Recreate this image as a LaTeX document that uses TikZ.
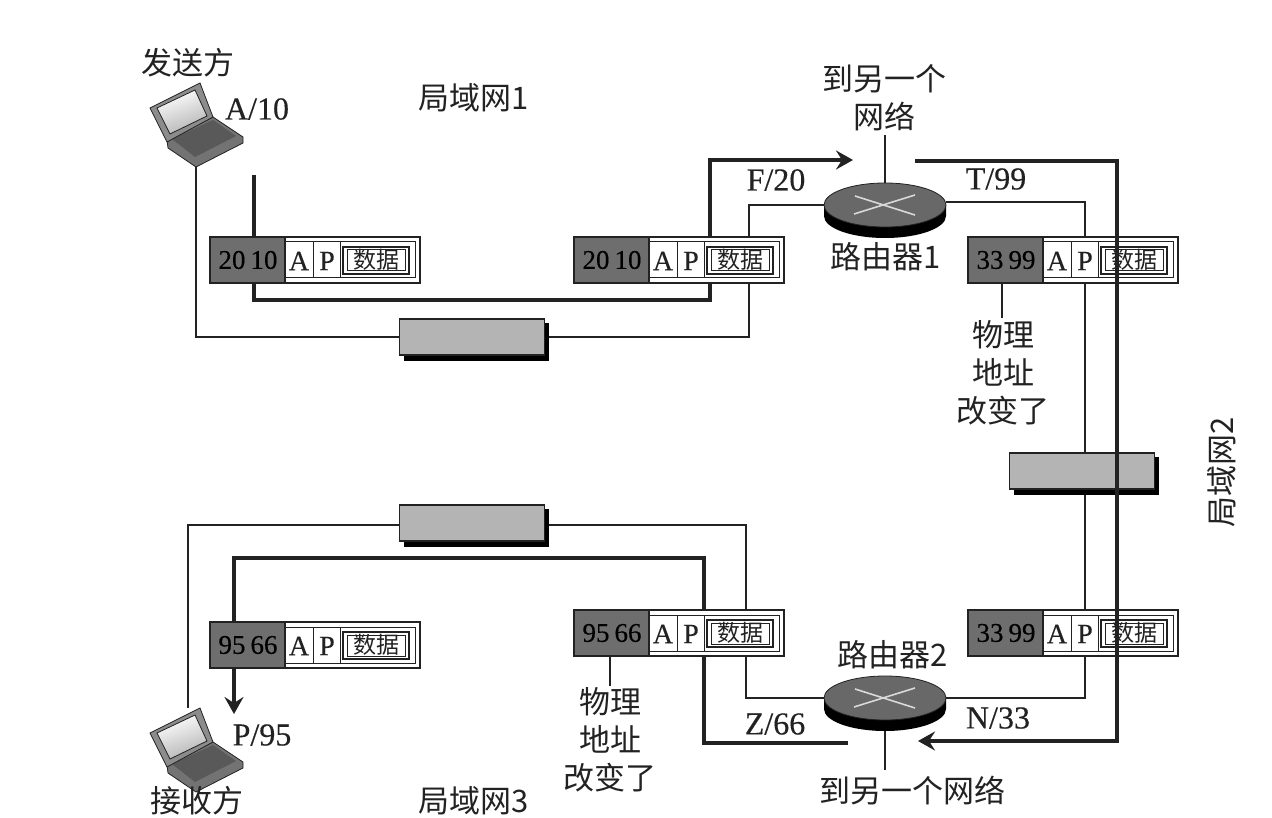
\documentclass[tikz,border=0pt]{standalone}
\usepackage{fontspec}
\setmainfont{Liberation Serif}[FakeBold=0.3]
\newfontfamily\cjk{Noto Sans CJK SC}
\usetikzlibrary{arrows.meta,backgrounds,shapes.geometric,calc}
\definecolor{darkcell}{HTML}{6E6E6E}
\definecolor{hubgray}{HTML}{B4B4B4}
\definecolor{routertop}{HTML}{686868}
\definecolor{ink}{HTML}{222222}
\tikzset{
  thinline/.style={draw=ink,line width=1.5pt,line join=miter},
  thickline/.style={draw=ink,line width=3.8pt,line join=miter},
  tipped/.style={-{Stealth[length=17pt,width=19pt,inset=6pt]}},
  lab/.style={inner sep=0pt,text=ink,font=\fontsize{32}{36}\selectfont},
  cjklab/.style={inner sep=0pt,text=ink,align=center,font=\cjk\fontsize{31}{38}\selectfont},
  packetbox/.style={draw=ink,line width=1.2pt,fill=white,anchor=north west,minimum width=210pt,minimum height=46pt,inner sep=0pt,outer sep=0pt},
  hubbox/.style={draw=ink,line width=1.2pt,fill=hubgray,minimum width=145pt,minimum height=36pt,inner sep=0pt,outer sep=0pt},
  routernode/.style={ellipse,minimum width=122pt,minimum height=44pt,inner sep=0pt,outer sep=0pt,draw=ink,line width=.8pt,fill=routertop},
}
\newcommand{\packetat}[5]{% name,x,y,left text,right text
  \node[packetbox] (#1) at (#2,#3) {};
  \begin{scope}[shift={(#2,#3)}]
    \draw[ink,line width=1pt] (75,5) rectangle (205,41);
    \draw[ink,line width=1pt,fill=white] (75,5) rectangle (130,41);
    \draw[ink,line width=1pt] (103,5) -- (103,41);
    \draw[ink,line width=1.2pt] (133,10) rectangle (199,37);
    \draw[ink,line width=1pt] (137,13) rectangle (195,34);
    \fill[darkcell] (0,0) rectangle (75,46);
    \draw[ink,line width=1.2pt] (0,0) rectangle (75,46);
    \node[inner sep=0pt,text=black,font=\fontsize{27}{30}\selectfont] (#1-addr) at (38,23) {#4\hspace{5pt}#5};
    \node[inner sep=0pt,text=ink,font=\fontsize{28}{30}\selectfont] (#1-a) at (89,24) {A};
    \node[inner sep=0pt,text=ink,font=\fontsize{28}{30}\selectfont] (#1-p) at (117,24) {P};
    \node[inner sep=0pt,text=ink,font=\cjk\fontsize{23}{26}\selectfont] (#1-d) at (166,23) {数据};
  \end{scope}
}
\newcommand{\hubat}[3]{% name,x,y centre
  \fill[black] (#2-68,#3-14) rectangle (#2+77,#3+24);
  \node[hubbox] (#1) at (#2,#3) {};
}
\newcommand{\routerat}[3]{% name,x,y centre of the top face
  \fill[black] (#2-61,#3) -- (#2-61,#3+11) arc[start angle=180,end angle=0,x radius=61,y radius=22] -- (#2+61,#3) -- cycle;
  \node[routernode] (#1) at (#2,#3) {};
  \draw[white!85!black,line width=1.6pt] (#2-31,#3+9) -- (#2+30,#3-10) (#2-30,#3-9) -- (#2+30,#3+10);
}
\newcommand{\laptopat}[3]{% name,x,y offset
  \begin{scope}[shift={(#2,#3)}]
    \coordinate (#1-top) at (188,83);
    \coordinate (#1-tip) at (196,165);
    \fill[black!55,draw=ink,line width=.8pt] (167,140) -- (213,117) -- (243,137) -- (243,143) -- (196,167) -- (168,148) -- cycle;
    \fill[black!65] (172,139) -- (213,120) -- (236,136) -- (195,157) -- cycle;
    \fill[black!45,draw=ink,line width=.8pt] (150,108) -- (200,83) -- (213,117) -- (167,142) -- cycle;
    \shade[left color=white,right color=black!30,shading angle=20] (157,108) -- (195,90) -- (207,116) -- (170,134) -- cycle;
    \draw[ink,line width=.8pt] (157,108) -- (195,90) -- (207,116) -- (170,134) -- cycle;
  \end{scope}
}
\begin{document}
\begin{tikzpicture}[x=1pt,y=-1pt]
\useasboundingbox (0,0) rectangle (1272,818);

% sender, receiver
\laptopat{sender}{0}{0}
\laptopat{receiver}{0}{625}

% packets
\packetat{p1}{210}{237}{20}{10}
\packetat{p2}{574}{237}{20}{10}
\packetat{p3}{968}{237}{33}{99}
\packetat{p4}{968}{610}{33}{99}
\packetat{p5}{574}{610}{95}{66}
\packetat{p6}{210}{622}{95}{66}

% hubs and routers
\hubat{hub1}{472}{337}
\hubat{hub2}{1082}{471}
\hubat{hub3}{472}{523}
\routerat{r1}{885}{205}
\routerat{r2}{885}{698}

% free ends and bends
\coordinate (t0) at (254,175);
\coordinate (t1) at (254,300);
\coordinate (t2) at (710,300);
\coordinate (t3) at (710,160);
\coordinate (t4) at (853,160);
\coordinate (u0) at (915,161);
\coordinate (u1) at (1117,161);
\coordinate (u2) at (1117,741);
\coordinate (u3) at (918,741);
\coordinate (v0) at (848,743);
\coordinate (v1) at (704,743);
\coordinate (v2) at (704,558);
\coordinate (v3) at (234,558);
\coordinate (v4) at (234,714);
\coordinate (n1) at (885,135);
\coordinate (n2) at (885,770);
\coordinate (c1) at (1002,318);
\coordinate (c2) at (610,686);
\coordinate (b1) at (749,205);
\coordinate (b2) at (1085,202);
\coordinate (b3) at (1085,698);
\coordinate (b4) at (746,698);
\coordinate (b5) at (746,525);
\coordinate (b6) at (188,525);
\coordinate (b7) at (196,337);

\begin{scope}[on background layer]
  \fill[white] (0,0) rectangle (1272,818);
  % thin links
  \draw[thinline] (sender-tip) -- (b7) -- (hub1.west);
  \draw[thinline] (hub1.east) -| (b1) -- (r1.west);
  \draw[thinline] (r1.east |- b2) -- (b2) -- (b2 |- hub2.north);
  \draw[thinline] (b2 |- hub2.south) -- (b3) -- (r2.east);
  \draw[thinline] (r2.west) -- (b4) -- (b5) -- (hub3.east |- b5);
  \draw[thinline] (hub3.west |- b5) -- (b6) -- (b6 |- receiver-top);
  % thick path behind the left packets
  \draw[thickline,tipped] (t0) -- (t1) -- (t2) -- (t3) -- (t4);
  \draw[thickline,tipped] (v0) -- (v1) -- (v2) -- (v3) -- (v4);
\end{scope}

% thick path across the right packets
\draw[thickline,tipped] (u0) -- (u1) -- (u2) -- (u3);

% leader lines
\draw[thinline] (n1) -- (r1.north);
\draw[thinline] (n2 |- r2.south) ++(0,11) -- (n2);
\draw[thinline] (c1 |- p3.south) -- (c1);
\draw[thinline] (c2 |- p5.south) -- (c2);

% labels
\node[cjklab] (l-sender) at (188,63) {发送方};
\node[cjklab] (l-recv) at (197,801) {接收方};
\node[cjklab,anchor=west] (l-lan1) at (418,98) {局域网1};
\node[cjklab,anchor=west] (l-lan3) at (418,801) {局域网3};
\node[cjklab,rotate=90] (l-lan2) at (1222,472) {局域网2};
\node[cjklab] (l-net1) at (884,98) {到另一个\\网络};
\node[cjklab] (l-net2) at (912,791) {到另一个网络};
\node[cjklab] (l-r1) at (886,257) {路由器1};
\node[cjklab] (l-r2) at (893,655) {路由器2};
\node[cjklab] (l-chg1) at (1003,373) {物理\\地址\\改变了};
\node[cjklab] (l-chg2) at (610,740) {物理\\地址\\改变了};
\node[lab] (l-a) at (257,109) {A/10};
\node[lab] (l-f) at (776,180) {F/20};
\node[lab] (l-t) at (996,179) {T/99};
\node[lab] (l-z) at (775,724) {Z/66};
\node[lab] (l-n) at (998,718) {N/33};
\node[lab] (l-p) at (262,735) {P/95};
\end{tikzpicture}
\end{document}
